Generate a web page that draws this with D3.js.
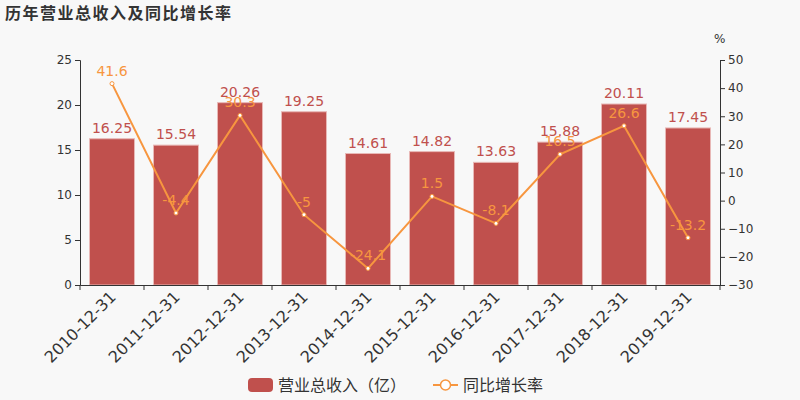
<!DOCTYPE html>
<html><head><meta charset="utf-8">
<script src="https://cdn.jsdelivr.net/npm/d3@7"></script>
<style>body{margin:0;background:#f8f8f8;}svg{display:block;font-family:"DejaVu Sans","Noto Sans CJK SC",sans-serif;}</style>
</head><body><svg id="c" width="800" height="400"></svg>
<script>
const categories=["2010-12-31","2011-12-31","2012-12-31","2013-12-31","2014-12-31","2015-12-31","2016-12-31","2017-12-31","2018-12-31","2019-12-31"];
const revenue=[16.25,15.54,20.26,19.25,14.61,14.82,13.63,15.88,20.11,17.45];
const growth=[41.6,-4.4,30.3,-5,-24.1,1.5,-8.1,16.5,26.6,-13.2];
const leftTicks=[0,5,10,15,20,25];
const rightTicks=[-30,-20,-10,0,10,20,30,40,50];

const svg=d3.select("#c");
const barColor="#c0504d", lineColor="#f7963f", textColor="#333";
const xb=d3.scaleBand().domain(categories).range([80,720]);
const yl=d3.scaleLinear().domain([0,25]).range([285,60]);
const yr=d3.scaleLinear().domain([-30,50]).range([285,60]);

svg.append("text").attr("x",5).attr("y",19).attr("font-size",16).attr("font-weight","bold").attr("fill",textColor).attr("letter-spacing",1.5).text("历年营业总收入及同比增长率");

// bars
svg.selectAll("rect.bar").data(revenue).join("rect").attr("class","bar")
 .attr("x",(d,i)=>xb(categories[i])+xb.bandwidth()/2-22.5).attr("width",45)
 .attr("y",d=>yl(d)).attr("height",d=>yl(0)-yl(d))
 .attr("fill",barColor).attr("stroke","#e8b8b6").attr("stroke-width",1);

// axes
const gl=svg.append("g").attr("transform","translate(80,0)").call(d3.axisLeft(yl).tickValues(leftTicks).tickSize(5).tickPadding(3));
const gr=svg.append("g").attr("transform","translate(720,0)").call(d3.axisRight(yr).tickValues(rightTicks).tickSize(5).tickPadding(3));
const gx=svg.append("g").attr("transform","translate(0,285)").call(d3.axisBottom(xb).tickSize(0).tickFormat(""));
gx.selectAll(".b").data(d3.range(categories.length+1)).join("line").attr("class","b")
 .attr("x1",i=>80+i*xb.step()).attr("x2",i=>80+i*xb.step()).attr("y1",0).attr("y2",5).attr("stroke",textColor);
[gl,gr,gx].forEach(g=>{g.selectAll("path,line").attr("stroke",textColor);g.selectAll("text").attr("fill",textColor).attr("font-size",12).attr("font-family","DejaVu Sans");});
svg.append("text").attr("x",714).attr("y",43).attr("font-size",12).attr("fill",textColor).text("%");

// x labels
svg.selectAll("text.xl").data(categories).join("text").attr("class","xl")
 .attr("transform",d=>`translate(${xb(d)+xb.bandwidth()/2+5},${298}) rotate(-45)`)
 .attr("text-anchor","end").attr("font-size",16).attr("fill",textColor).text(d=>d);

// bar labels
svg.selectAll("text.bl").data(revenue).join("text").attr("class","bl")
 .attr("x",(d,i)=>xb(categories[i])+xb.bandwidth()/2).attr("y",d=>yl(d)-6)
 .attr("text-anchor","middle").attr("font-size",14).attr("fill",barColor).text(d=>d);

// line
const line=d3.line().x((d,i)=>xb(categories[i])+xb.bandwidth()/2).y(d=>yr(d));
svg.append("path").datum(growth).attr("d",line).attr("fill","none").attr("stroke",lineColor).attr("stroke-width",2);
svg.selectAll("circle.pt").data(growth).join("circle").attr("class","pt")
 .attr("cx",(d,i)=>xb(categories[i])+xb.bandwidth()/2).attr("cy",d=>yr(d)).attr("r",2)
 .attr("fill","#fff").attr("stroke",lineColor).attr("stroke-width",1);
svg.selectAll("text.ll").data(growth).join("text").attr("class","ll")
 .attr("x",(d,i)=>xb(categories[i])+xb.bandwidth()/2).attr("y",d=>yr(d)-8)
 .attr("text-anchor","middle").attr("font-size",14).attr("fill",lineColor).text(d=>d);

// legend
const lg=svg.append("g");
lg.append("rect").attr("x",248).attr("y",378).attr("width",25).attr("height",14).attr("rx",4).attr("fill",barColor);
lg.append("text").attr("x",278).attr("y",391).attr("font-size",16).attr("fill",textColor).text("营业总收入（亿）");
lg.append("line").attr("x1",433).attr("x2",458).attr("y1",385).attr("y2",385).attr("stroke",lineColor).attr("stroke-width",2);
lg.append("circle").attr("cx",445.5).attr("cy",385).attr("r",5).attr("fill","#fff").attr("stroke",lineColor).attr("stroke-width",1.5);
lg.append("text").attr("x",463).attr("y",391).attr("font-size",16).attr("fill",textColor).text("同比增长率");
</script></body></html>
